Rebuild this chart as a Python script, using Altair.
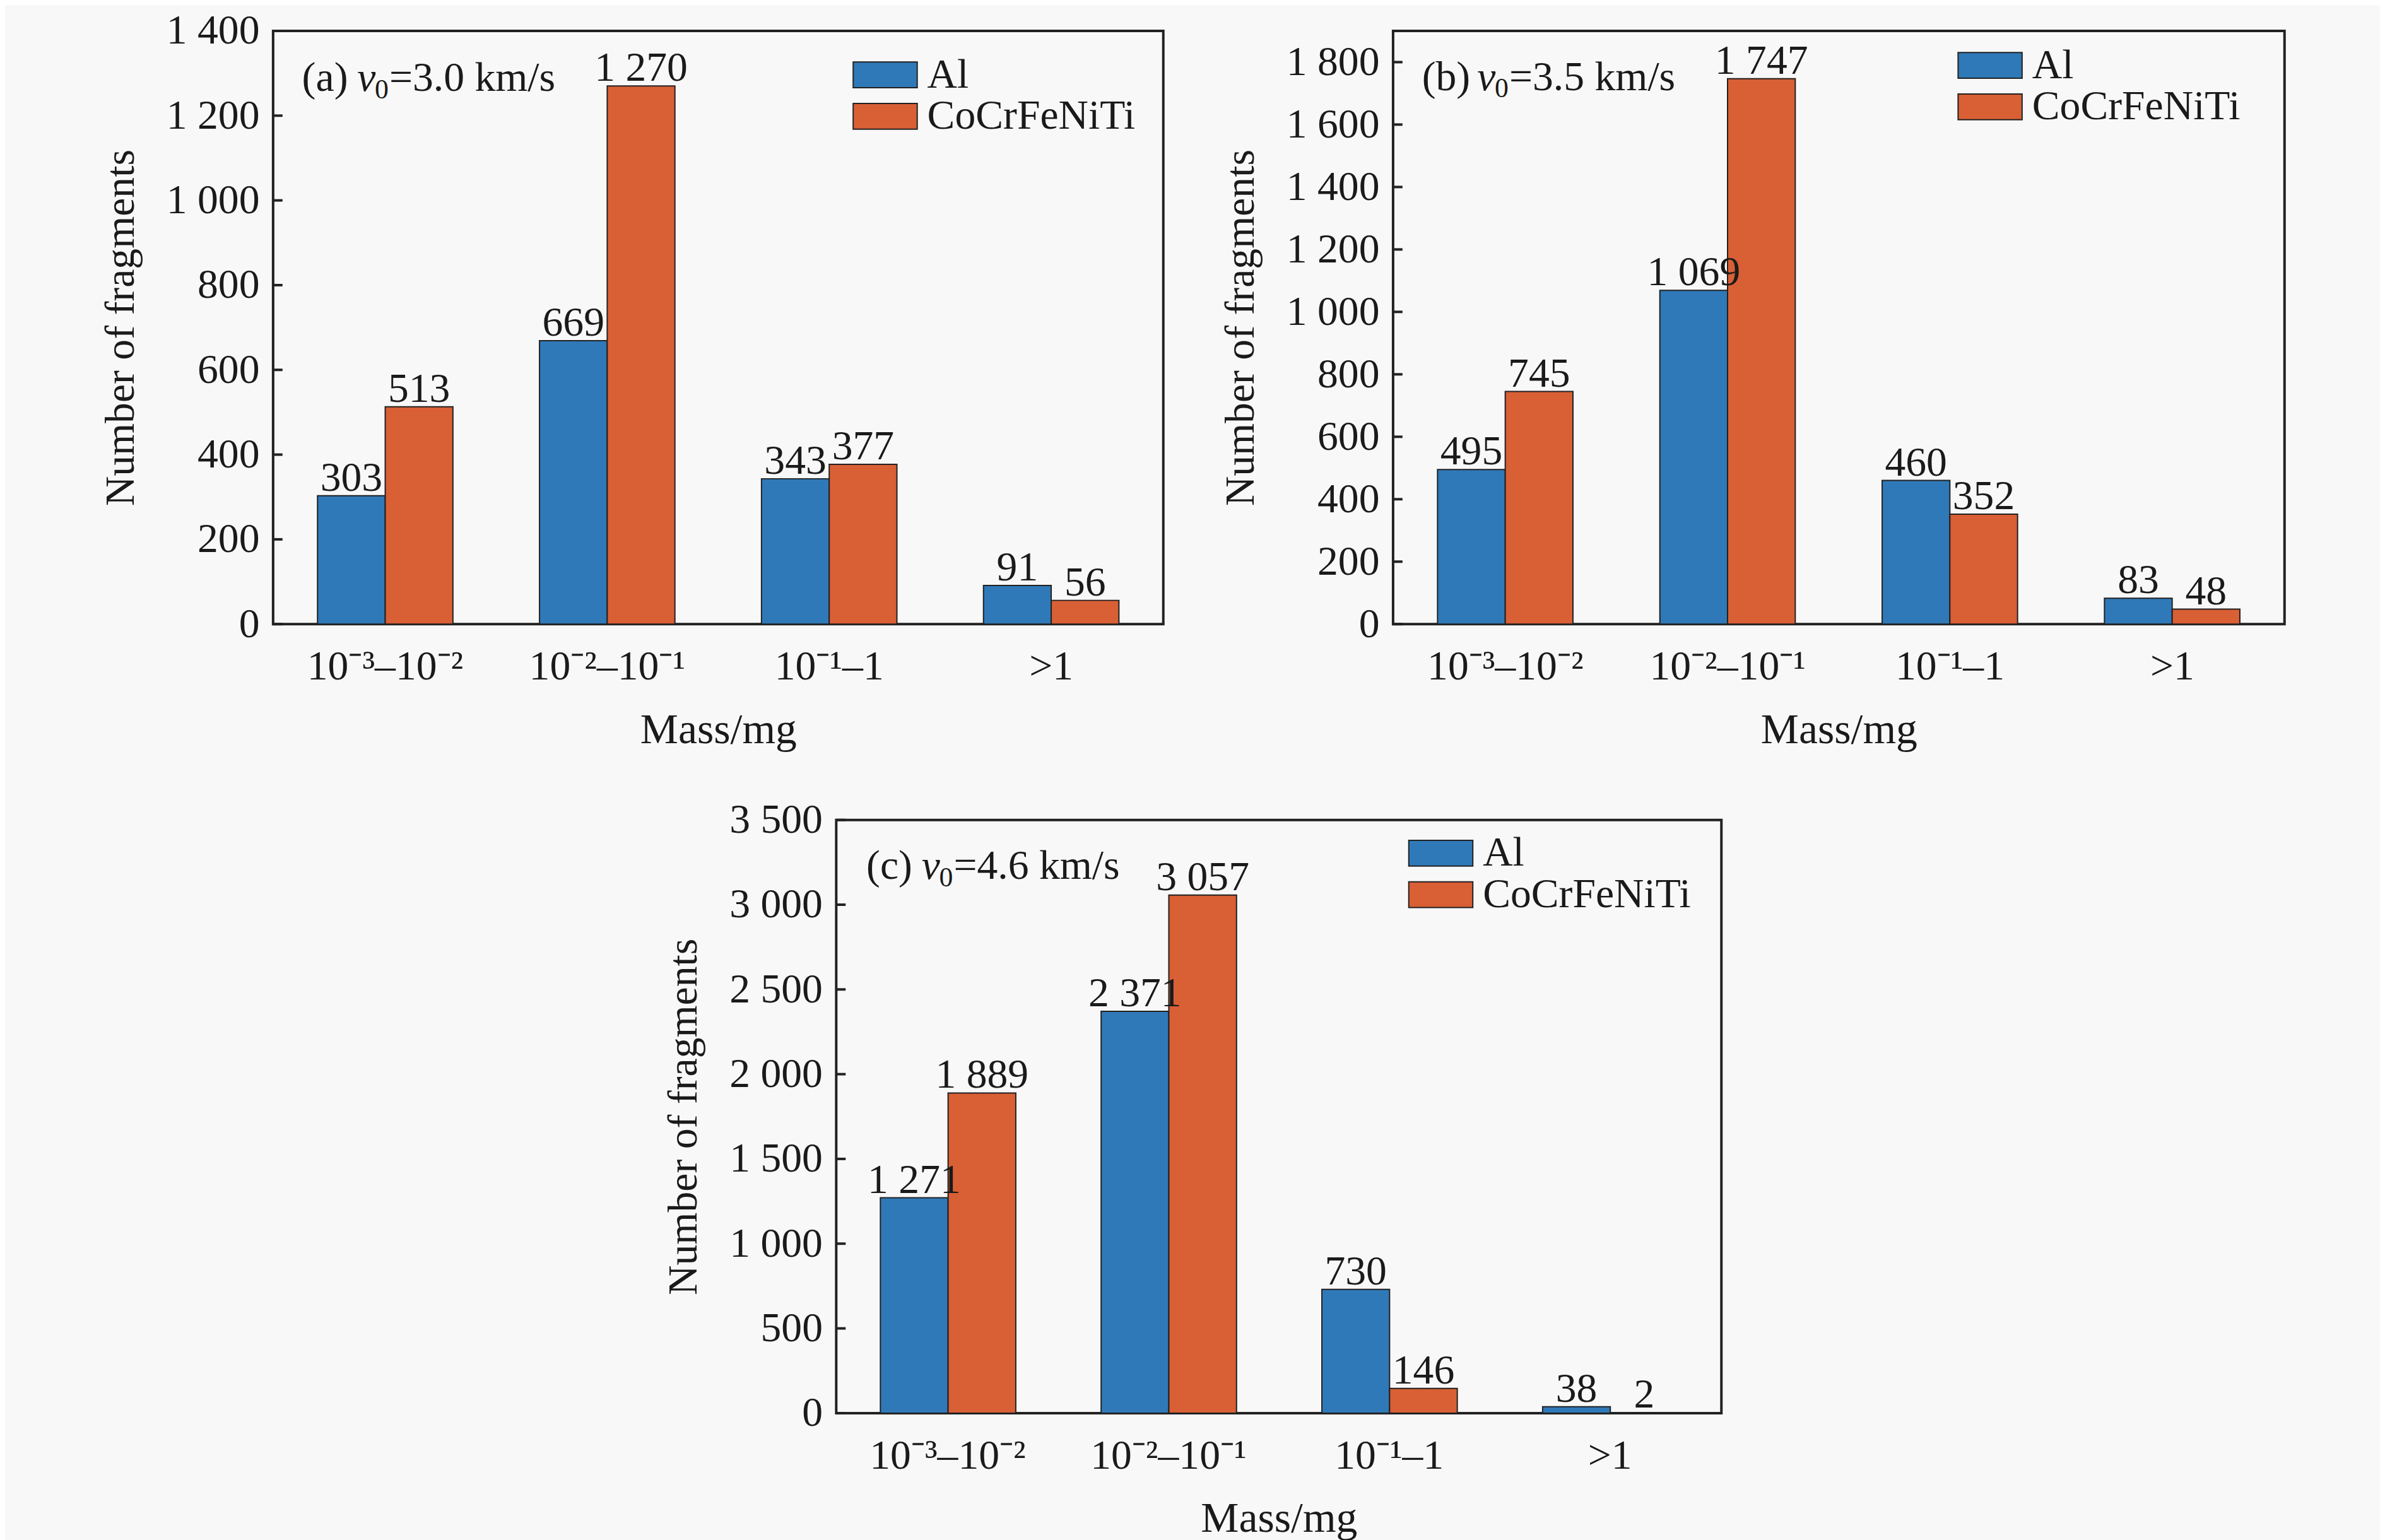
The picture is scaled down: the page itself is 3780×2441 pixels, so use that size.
import altair as alt
import pandas as pd

cats = ["10⁻³–10⁻²", "10⁻²–10⁻¹", "10⁻¹–1", ">1"]
series = ["Al", "CoCrFeNiTi"]
colors = ["#2f79b8", "#d95f35"]

a_al = [303, 669, 343, 91]
a_co = [513, 1270, 377, 56]
b_al = [495, 1069, 460, 83]
b_co = [745, 1747, 352, 48]
c_al = [1271, 2371, 730, 38]
c_co = [1889, 3057, 146, 2]

a_ticks = [0, 200, 400, 600, 800, 1000, 1200, 1400]
b_ticks = [0, 200, 400, 600, 800, 1000, 1200, 1400, 1600, 1800]
c_ticks = [0, 500, 1000, 1500, 2000, 2500, 3000, 3500]

FONT = "Liberation Serif"
TXT = "#1a1a1a"


def fmt(v):
    return f"{v:,}".replace(",", " ")


def panel(letter, speed, al, co, ymax, ticks, width, leg_x, leg_y, ann_y, ann_x=46):
    rows = []
    for i, c in enumerate(cats):
        rows.append({"cat": c, "series": "Al", "value": al[i], "label": fmt(al[i])})
        rows.append({"cat": c, "series": "CoCrFeNiTi", "value": co[i], "label": fmt(co[i])})
    df = pd.DataFrame(rows)

    xenc = alt.X("cat:N", sort=cats,
                 scale=alt.Scale(paddingInner=0.39, paddingOuter=0.2),
                 axis=alt.Axis(title="Mass/mg", labelAngle=0, ticks=False, domain=False,
                               labelFontSize=66, labelPadding=36, titleFontSize=68,
                               titlePadding=34, labelFont=FONT, titleFont=FONT,
                               labelColor=TXT, titleColor=TXT, titleFontWeight="normal",
                               labelLimit=2000))
    yscale = alt.Scale(domain=[0, ymax], nice=False, zero=True)
    yenc = alt.Y("value:Q", scale=yscale,
                 axis=alt.Axis(title="Number of fragments", values=ticks, ticks=False,
                               domain=False, grid=False, labelFontSize=66, labelPadding=22,
                               titleFontSize=66, titlePadding=38, labelFont=FONT,
                               titleFont=FONT, labelColor=TXT, titleColor=TXT,
                               titleFontWeight="normal",
                               labelExpr="replace(format(datum.value, ','), ',', ' ')"))

    bars = alt.Chart(df).mark_bar(stroke="#222", strokeWidth=2).encode(
        x=xenc,
        xOffset=alt.XOffset("series:N", sort=series),
        y=yenc,
        color=alt.Color("series:N", sort=series,
                        scale=alt.Scale(domain=series, range=colors),
                        legend=alt.Legend(title=None, orient="none", legendX=leg_x,
                                          legendY=leg_y,
                                          symbolType="M-5.1,-2.05L5.1,-2.05L5.1,2.05L-5.1,2.05Z",
                                          symbolSize=400, symbolStrokeColor="#222",
                                          symbolStrokeWidth=2, symbolOpacity=1,
                                          labelFont=FONT, labelFontSize=66, labelColor=TXT,
                                          labelOffset=34, rowPadding=-4, padding=0,
                                          labelLimit=2000)),
    )
    labels = alt.Chart(df).mark_text(font=FONT, fontSize=66, color=TXT,
                                     baseline="alphabetic", dy=-8).encode(
        x=alt.X("cat:N", sort=cats),
        xOffset=alt.XOffset("series:N", sort=series),
        y="value:Q",
        text="label:N",
    )
    tdf = pd.DataFrame({"t": ticks})
    tick_rules = alt.Chart(tdf).mark_rule(color="#222", strokeWidth=4).encode(
        y="t:Q", x=alt.value(0), x2=alt.value(15))

    one = pd.DataFrame({"k": [0]})
    fs = 66
    t1 = alt.Chart(one).mark_text(text=f"({letter})", font=FONT, fontSize=fs, color=TXT,
                                  align="left", baseline="alphabetic").encode(
        x=alt.value(ann_x), y=alt.value(ann_y))
    t2 = alt.Chart(one).mark_text(text="v", font=FONT, fontSize=fs, fontStyle="italic",
                                  color=TXT, align="left", baseline="alphabetic").encode(
        x=alt.value(ann_x + 88), y=alt.value(ann_y))
    t3 = alt.Chart(one).mark_text(text="0", font=FONT, fontSize=44, color=TXT,
                                  align="left", baseline="alphabetic").encode(
        x=alt.value(ann_x + 116), y=alt.value(ann_y + 12))
    t4 = alt.Chart(one).mark_text(text=f"={speed} km/s", font=FONT, fontSize=fs, color=TXT,
                                  align="left", baseline="alphabetic").encode(
        x=alt.value(ann_x + 139), y=alt.value(ann_y))

    return alt.layer(bars, labels, tick_rules, t1, t2, t3, t4).properties(
        width=width, height=945)


pa = panel("a", "3.0", a_al, a_co, 1400, a_ticks, 1418, 942, 37, 96)
pb = panel("b", "3.5", b_al, b_co, 1900, b_ticks, 1420, 918, 22, 94)
pc = panel("c", "4.6", c_al, c_co, 3500, c_ticks, 1410, 930, 20, 94, ann_x=48)

top = alt.hconcat(pa, pb, spacing=86).resolve_scale(
    color="independent").resolve_legend(color="independent")
chart = alt.vconcat(top, pc, spacing=72, center=True).resolve_scale(
    color="independent").resolve_legend(color="independent").properties(
    padding={"left": 149, "top": 0, "right": 150, "bottom": 10},
    background="#f8f8f8",
).configure_view(stroke="#222", strokeWidth=4, fill="#f8f8f8")

chart.save("out.html", embed_options={"renderer": "svg", "actions": False})
